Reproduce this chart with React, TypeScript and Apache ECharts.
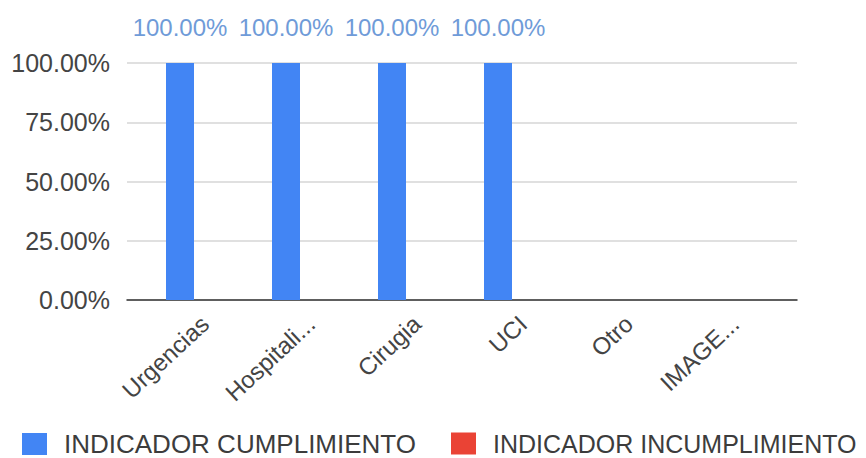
import React, { useEffect, useRef } from "react";
import * as echarts from "echarts";

const categories = ["Urgencias", "Hospitali...", "Cirugia", "UCI", "Otro", "IMAGE..."];
const cumplimiento = [1, 1, 1, 1, null, null];
const incumplimiento = [0, 0, 0, 0, null, null];
const yTicks = [0, 0.25, 0.5, 0.75, 1];
const seriesNames = ["INDICADOR CUMPLIMIENTO", "INDICADOR INCUMPLIMIENTO"];

const FONT = "Liberation Sans, Arial, sans-serif";
const pct = (v: number) => (v * 100).toFixed(2) + "%";

export default function App() {
  const ref = useRef<HTMLDivElement>(null);
  useEffect(() => {
    if (!ref.current) return;
    const chart = echarts.init(ref.current, null, { renderer: "svg" });
    const legendBase = {
      top: 431,
      padding: 0,
      itemWidth: 25,
      itemHeight: 22,
      icon: "rect",
    };
    chart.setOption({
      animation: false,
      backgroundColor: "#ffffff",
      textStyle: { fontFamily: FONT },
      legend: [
        {
          ...legendBase,
          left: 22,
          data: [seriesNames[0]],
          textStyle: { fontSize: 26, color: "#3c3c3c", fontFamily: FONT, padding: [0, 0, 0, 12] },
        },
        {
          ...legendBase,
          left: 451,
          data: [seriesNames[1]],
          textStyle: { fontSize: 25, color: "#3c3c3c", fontFamily: FONT, padding: [0, 0, 0, 12] },
        },
      ],
      grid: [
        { left: 127, top: 63, width: 636, height: 237 },
        { left: 127, top: 63, right: 69, height: 237 },
        { left: 152, top: 63, width: 636, height: 237 },
      ],
      xAxis: [
        {
          type: "category",
          gridIndex: 0,
          data: categories,
          axisLine: { show: false },
          axisTick: { show: false },
          axisLabel: { show: false },
        },
        {
          type: "value",
          gridIndex: 1,
          min: 0,
          max: 1,
          axisLabel: { show: false },
          axisTick: { show: false },
          splitLine: { show: false },
          axisLine: { show: true, onZero: false, lineStyle: { color: "#333333", width: 1.5 } },
        },
        {
          type: "category",
          gridIndex: 2,
          data: categories,
          axisLine: { show: false },
          axisTick: { show: false },
          axisLabel: {
            rotate: 43,
            fontSize: 24,
            color: "#444444",
            margin: 20,
            fontFamily: FONT,
            interval: 0,
          },
        },
      ],
      yAxis: [
        { type: "value", gridIndex: 0, min: 0, max: 1, show: false },
        {
          type: "value",
          gridIndex: 1,
          min: 0,
          max: 1,
          interval: 0.25,
          axisLine: { show: false },
          axisTick: { show: false },
          splitLine: { show: true, lineStyle: { color: "#d6d6d6", width: 1.5 } },
          axisLabel: {
            formatter: (v: number) => (yTicks.includes(v) ? pct(v) : ""),
            fontSize: 25,
            color: "#444444",
            margin: 17,
            fontFamily: FONT,
          },
        },
        { type: "value", gridIndex: 2, min: 0, max: 1, show: false },
      ],
      series: [
        {
          name: seriesNames[0],
          type: "bar",
          xAxisIndex: 0,
          yAxisIndex: 0,
          data: cumplimiento,
          barWidth: 28,
          barGap: "-100%",
          itemStyle: { color: "#4285f4" },
          label: {
            show: true,
            position: "top",
            distance: 24,
            formatter: (p: any) => pct(p.value),
            fontSize: 24,
            color: "#6f9bd8",
            fontFamily: FONT,
          },
        },
        {
          name: seriesNames[1],
          type: "bar",
          xAxisIndex: 0,
          yAxisIndex: 0,
          data: incumplimiento,
          barWidth: 28,
          barGap: "-100%",
          itemStyle: { color: "#ea4335" },
        },
      ],
    });
    return () => chart.dispose();
  }, []);
  return (
    <div
      ref={ref}
      style={{ position: "fixed", left: 0, top: 0, width: 866, height: 458 }}
    />
  );
}
